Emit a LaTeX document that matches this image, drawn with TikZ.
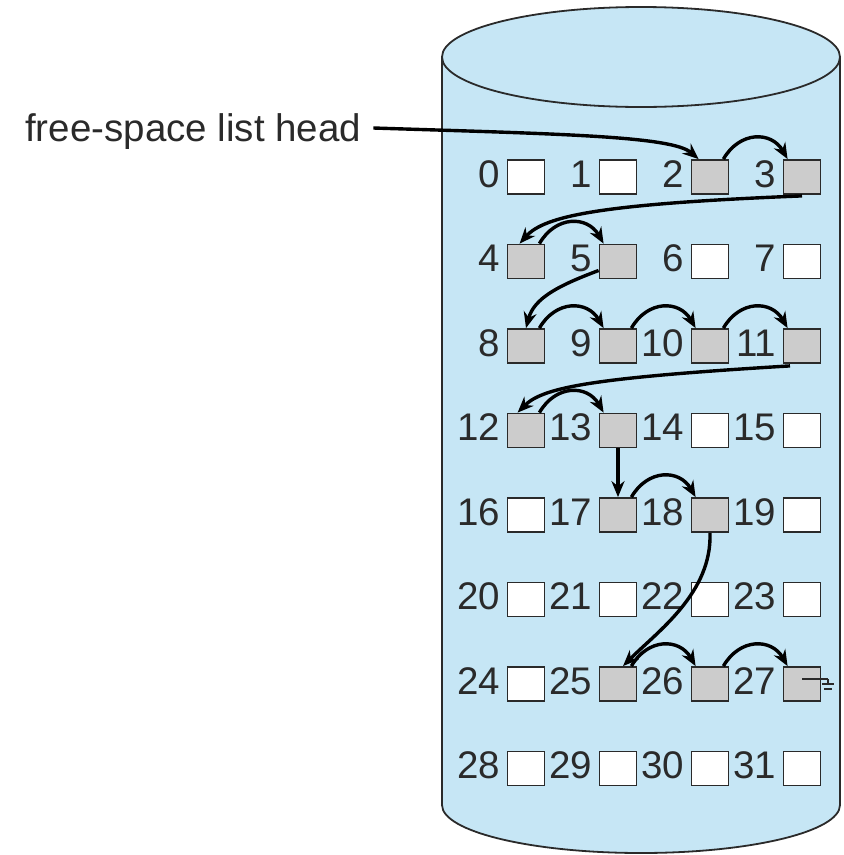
\documentclass[tikz,border=0pt]{standalone}
\usepackage{fontspec}
\setmainfont{Liberation Sans}
\usetikzlibrary{arrows.meta,positioning}
\definecolor{disk}{HTML}{C6E6F5}
\definecolor{grayfill}{HTML}{CCCCCC}
\definecolor{ink}{HTML}{2A2A2A}
\tikzset{
  blk/.style={draw=ink,line width=1.8pt,minimum width=37pt,minimum height=34pt,inner sep=0pt},
  freeblk/.style={blk,fill=grayfill},
  allocblk/.style={blk,fill=white},
  num/.style={inner sep=0pt,text=ink},
  lnk/.style={-{Stealth[length=16pt,width=13pt]},line width=3.4pt,draw=black},
  hop/.style={lnk,out=60,in=120,looseness=1.3},
}

\begin{document}
\begin{tikzpicture}[x=1pt,y=1pt,font=\fontsize{38.5}{40}\selectfont]
  \useasboundingbox (0,0) rectangle (844,-855);
  % disk drum
  \fill[disk] (442,-57) -- (442,-805)
    arc[start angle=180,end angle=360,x radius=199pt,y radius=48pt] -- (840,-57) -- cycle;
  \draw[ink,line width=1.8pt] (442,-57) -- (442,-805)
    arc[start angle=180,end angle=360,x radius=199pt,y radius=48pt] -- (840,-57);
  \filldraw[fill=disk,draw=ink,line width=1.8pt] (641,-57) ellipse[x radius=199pt,y radius=50pt];
  % blocks
  \foreach \n/\s in {0/allocblk,1/allocblk,2/freeblk,3/freeblk,4/freeblk,5/freeblk,6/allocblk,7/allocblk,
                     8/freeblk,9/freeblk,10/freeblk,11/freeblk,12/freeblk,13/freeblk,14/allocblk,15/allocblk,
                     16/allocblk,17/freeblk,18/freeblk,19/allocblk,20/allocblk,21/allocblk,22/allocblk,23/allocblk,
                     24/allocblk,25/freeblk,26/freeblk,27/freeblk,28/allocblk,29/allocblk,30/allocblk,31/allocblk}{
    \pgfmathtruncatemacro\c{mod(\n,4)}
    \pgfmathtruncatemacro\r{\n/4}
    \node[\s] (b\n) at ({526+92*\c},{-177-84.5*\r}) {};
    \node[num,left=6pt of b\n,yshift=3pt] (n\n) {\n};
  }
  \node[num,anchor=west] (hd) at (25,-132) {free-space list head};
  % list links
  \draw[lnk] ([xshift=12pt,yshift=4pt]hd.east) .. controls (560,-134) and (672,-136) .. ([xshift=8pt]b2.north west);
  \draw[hop] ([xshift=-6pt]b2.north east) to ([xshift=5pt]b3.north west);
  \draw[lnk] ([yshift=-1pt]b3.south) .. controls +(-200,-8) and +(25,28) .. ([xshift=13pt]b4.north west);
  \draw[hop] ([xshift=-6pt]b4.north east) to ([xshift=5pt]b5.north west);
  \draw[lnk] ([yshift=-9pt]b5.west) .. controls +(-40,-15) and +(8,30) .. (b8.north);
  \draw[hop] ([xshift=-6pt]b8.north east) to ([xshift=5pt]b9.north west);
  \draw[hop] ([xshift=-6pt]b9.north east) to ([xshift=5pt]b10.north west);
  \draw[hop] ([xshift=-6pt]b10.north east) to ([xshift=5pt]b11.north west);
  \draw[lnk] ([xshift=-12pt,yshift=-2pt]b11.south) .. controls +(-200,-12) and +(25,25) .. ([xshift=11pt]b12.north west);
  \draw[hop] ([xshift=-6pt]b12.north east) to ([xshift=5pt]b13.north west);
  \draw[lnk] (b13.south) -- (b17.north);
  \draw[hop] ([xshift=-6pt]b17.north east) to ([xshift=5pt]b18.north west);
  \draw[lnk] (b18.south) .. controls +(2,-60) and +(35,35) .. ([xshift=5pt]b25.north);
  \draw[hop] ([xshift=-6pt]b25.north east) to ([xshift=5pt]b26.north west);
  \draw[hop] ([xshift=-6pt]b26.north east) to ([xshift=5pt]b27.north west);
  % list end
  \draw[ink,line width=1.2pt] ([yshift=5pt]b27.center) -- ++(26,0) coordinate (gnd);
  \draw[ink,line width=1.2pt] (gnd) -- ++(0,-5) ++(-6,0) -- ++(12,0) ++(-10,-5) -- ++(8,0);
\end{tikzpicture}
\end{document}
